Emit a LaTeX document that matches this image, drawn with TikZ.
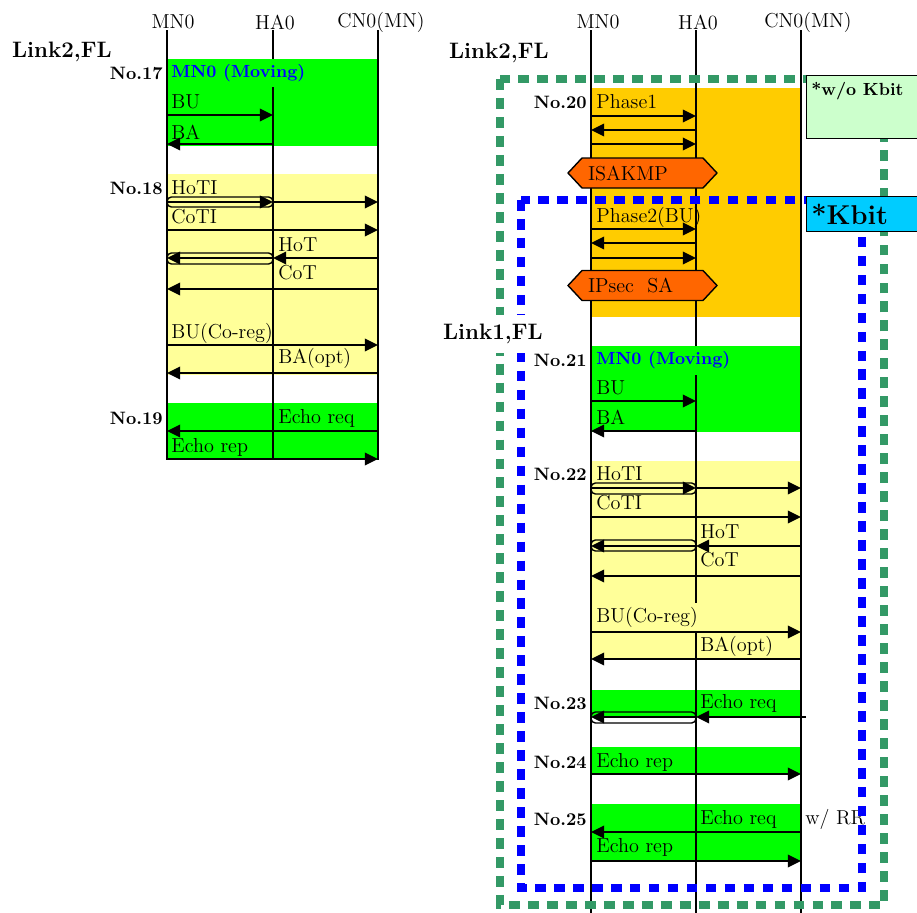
\documentclass[tikz,border=0pt]{standalone}
\usepackage{tikz}
\usetikzlibrary{arrows.meta,positioning,shapes.symbols,calc}
\definecolor{mgreen}{RGB}{0,255,0}
\definecolor{myellow}{RGB}{255,255,153}
\definecolor{morange}{RGB}{255,204,0}
\definecolor{hexorange}{RGB}{255,102,0}
\definecolor{paleg}{RGB}{204,255,204}
\definecolor{kcyan}{RGB}{0,204,255}
\definecolor{dgreen}{RGB}{51,153,102}
\definecolor{dblue}{RGB}{0,0,255}

\begin{document}
\begin{tikzpicture}[x=0.02cm, y=-0.02cm,
    life/.style={line width=1.5pt},
    arr/.style={-{Triangle[length=7.5pt,width=7pt]}, line width=1.6pt},
    tun/.style={draw, line width=0.8pt, rounded corners=2.5pt},
    head/.style={inner sep=0pt, font=\fontsize{11.5}{13}\selectfont},
    lbl/.style={anchor=west, inner sep=0pt, font=\fontsize{11.5}{13}\selectfont},
    mov/.style={anchor=west, inner sep=0pt, text=dblue, font=\bfseries},
    num/.style={anchor=east, inner sep=0pt, font=\fontsize{10.2}{12}\selectfont\bfseries},
    link/.style={anchor=west, inner sep=1pt, font=\fontsize{12.7}{15}\selectfont\bfseries},
    hex/.style={signal, signal to=west and east, signal pointer angle=94, draw,
                fill=hexorange, line width=0.8pt, minimum height=0.6cm,
                text width=2.18cm, inner xsep=0.12cm, inner ysep=0pt, align=left,
                font=\fontsize{11.5}{13}\selectfont},
    kbox/.style={draw, line width=0.8pt, anchor=north west, minimum width=2.48cm},
    gdash/.style={draw=dgreen, line width=4pt, dash pattern=on 6.2pt off 4.6pt},
    bdash/.style={draw=dblue, line width=4.3pt, dash pattern=on 6pt off 4.8pt}
]
\useasboundingbox (0,0) rectangle (917,913);

% lifeline heads
\coordinate (LMN) at (167,30);
\coordinate (LHA) at (273,30);
\coordinate (LCN) at (378,30);
\coordinate (RMN) at (591,30);
\coordinate (RHA) at (696,30);
\coordinate (RCN) at (801,30);
\node[head] (lmnh) at (173,22) {MN0};
\node[head] (lhah) at (275,22) {HA0};
\node[head] (lcnh) at (381,22) {CN0(MN)};
\node[head] (rmnh) at (598,22) {MN0};
\node[head] (rhah) at (698,22) {HA0};
\node[head] (rcnh) at (808,22) {CN0(MN)};

% colour bands
\fill[mgreen] (167,59) rectangle (378,146);
\fill[myellow] (167,174) rectangle (378,375);
\fill[mgreen] (167,403) rectangle (378,460);
\fill[morange] (591,88) rectangle (801,317);
\fill[mgreen] (591,346) rectangle (801,432);
\fill[myellow] (591,461) rectangle (801,660);
\fill[mgreen] (591,690) rectangle (801,717);
\fill[mgreen] (591,747) rectangle (801,774);
\fill[mgreen] (591,804) rectangle (801,861);

% lifelines
\draw[life] (LMN) -- (LMN|-0,460);
\draw[life] (LHA) -- (LHA|-0,460);
\draw[life] (LCN) -- (LCN|-0,460);
\draw[life] (RMN) -- (RMN|-0,913);
\draw[life] (RHA) -- (RHA|-0,913);
\draw[life] (RCN) -- (RCN|-0,913);

% left: No.17 - No.19
\node[num] (n17) at (163,73) {No.17};
\node[mov, fill=mgreen, minimum height=0.58cm] (mv17) at (171,73) {MN0 (Moving)};
\node[lbl] (bu17) at (171,102) {BU};
\draw[arr] (LMN|-0,115) -- (LHA|-0,115);
\node[lbl] (ba17) at (171,132) {BA};
\draw[arr] (LHA|-0,144) -- (LMN|-0,144);

\node[num] (n18) at (163,188) {No.18};
\node[lbl] (hoti18) at (171,188) {HoTI};
\draw[tun] (LMN|-0,197) rectangle (LHA|-0,207);
\draw[arr] (LMN|-0,202) -- (LHA|-0,202);
\draw[arr] (LHA|-0,202) -- (LCN|-0,202);
\node[lbl] (coti18) at (171,217) {CoTI};
\draw[arr] (LMN|-0,230) -- (LCN|-0,230);
\node[lbl] (hot18) at (278,245) {HoT};
\draw[arr] (LCN|-0,258) -- (LHA|-0,258);
\draw[tun] (LMN|-0,253) rectangle (LHA|-0,264);
\draw[arr] (LHA|-0,258) -- (LMN|-0,258);
\node[lbl] (cot18) at (278,273) {CoT};
\draw[arr] (LCN|-0,289) -- (LMN|-0,289);
\node[lbl] (bu18) at (171,333) {BU(Co-reg)};
\draw[arr] (LMN|-0,345) -- (LCN|-0,345);
\node[lbl] (ba18) at (278,358) {BA(opt)};
\draw[arr] (LCN|-0,373) -- (LMN|-0,373);

\node[num] (n19) at (163,418) {No.19};
\node[lbl] (req19) at (278,418) {Echo req};
\draw[arr] (LCN|-0,431) -- (LMN|-0,431);
\node[lbl] (rep19) at (171,447) {Echo rep};
\draw[arr] (LMN|-0,459) -- (LCN|-0,459);

% right: No.20 - No.25
\node[num] (n20) at (587,102) {No.20};
\node[lbl] (ph1) at (596,102) {Phase1};
\draw[arr] (RMN|-0,116) -- (RHA|-0,116);
\draw[arr] (RHA|-0,130) -- (RMN|-0,130);
\draw[arr] (RMN|-0,144) -- (RHA|-0,144);
\node[hex] (isakmp) at (642.5,173) {ISAKMP};
\node[lbl] (ph2) at (596,217) {Phase2(BU)};
\draw[arr] (RMN|-0,229) -- (RHA|-0,229);
\draw[arr] (RHA|-0,243) -- (RMN|-0,243);
\draw[arr] (RMN|-0,258) -- (RHA|-0,258);
\node[hex] (ipsec) at (642.5,285.5) {IPsec~~SA};

\node[num] (n21) at (587,360) {No.21};
\node[mov, fill=mgreen, minimum height=0.58cm] (mv21) at (596,360) {MN0 (Moving)};
\node[lbl] (bu21) at (596,388) {BU};
\draw[arr] (RMN|-0,401) -- (RHA|-0,401);
\node[lbl] (ba21) at (596,417) {BA};
\draw[arr] (RHA|-0,431) -- (RMN|-0,431);

\node[num] (n22) at (587,474) {No.22};
\node[lbl] (hoti22) at (596,474) {HoTI};
\draw[tun] (RMN|-0,483) rectangle (RHA|-0,494);
\draw[arr] (RMN|-0,488) -- (RHA|-0,488);
\draw[arr] (RHA|-0,488) -- (RCN|-0,488);
\node[lbl] (coti22) at (596,503) {CoTI};
\draw[arr] (RMN|-0,517) -- (RCN|-0,517);
\node[lbl] (hot22) at (700,532) {HoT};
\draw[arr] (RCN|-0,546) -- (RHA|-0,546);
\draw[tun] (RMN|-0,540) rectangle (RHA|-0,551);
\draw[arr] (RHA|-0,546) -- (RMN|-0,546);
\node[lbl] (cot22) at (700,560) {CoT};
\draw[arr] (RCN|-0,576) -- (RMN|-0,576);
\node[lbl, fill=myellow, minimum height=0.56cm] (bu22) at (596,617) {BU(Co-reg)};
\draw[arr] (RMN|-0,632) -- (RCN|-0,632);
\node[lbl] (ba22) at (700,646) {BA(opt)};
\draw[arr] (RCN|-0,659) -- (RMN|-0,659);

\node[num] (n23) at (587,703) {No.23};
\node[lbl] (req23) at (700,703) {Echo req};
\coordinate (e23) at (806,717);
\draw[arr] (e23) -- (RHA|-e23);
\draw[tun] (RMN|-0,712) rectangle (RHA|-0,723);
\draw[arr] (RHA|-e23) -- (RMN|-e23);

\node[num] (n24) at (587,762) {No.24};
\node[lbl] (rep24) at (596,762) {Echo rep};
\draw[arr] (RMN|-0,774) -- (RCN|-0,774);

\node[num] (n25) at (587,819) {No.25};
\node[lbl] (req25) at (700,819) {Echo req};
\node[lbl] (rr25) at (805,819) {w/ RR};
\draw[arr] (RCN|-0,832) -- (RMN|-0,832);
\node[lbl] (rep25) at (596,847) {Echo rep};
\draw[arr] (RMN|-0,861) -- (RCN|-0,861);

% key areas
\draw[gdash] (500,79) rectangle (884,905);
\draw[bdash] (521,200) rectangle (862,888);
\node[kbox, fill=paleg, minimum height=1.26cm] (wokbit) at (806,75) {};
\node[anchor=north west, inner sep=0pt, font=\bfseries] (wokbitt) at (811,82) {*w/o Kbit};
\node[kbox, fill=kcyan, minimum height=0.7cm] (kbit) at (806,196) {};
\node[anchor=west, inner sep=0pt, font=\fontsize{15.5}{18}\selectfont\bfseries] (kbitt) at (811,214) {*Kbit};

% link labels
\node[link] (link2l) at (10,52) {Link2,FL};
\node[link] (link2r) at (447,53) {Link2,FL};
\node[link, fill=white, inner ysep=5pt] (link1r) at (441,334) {Link1,FL};
\end{tikzpicture}
\end{document}
